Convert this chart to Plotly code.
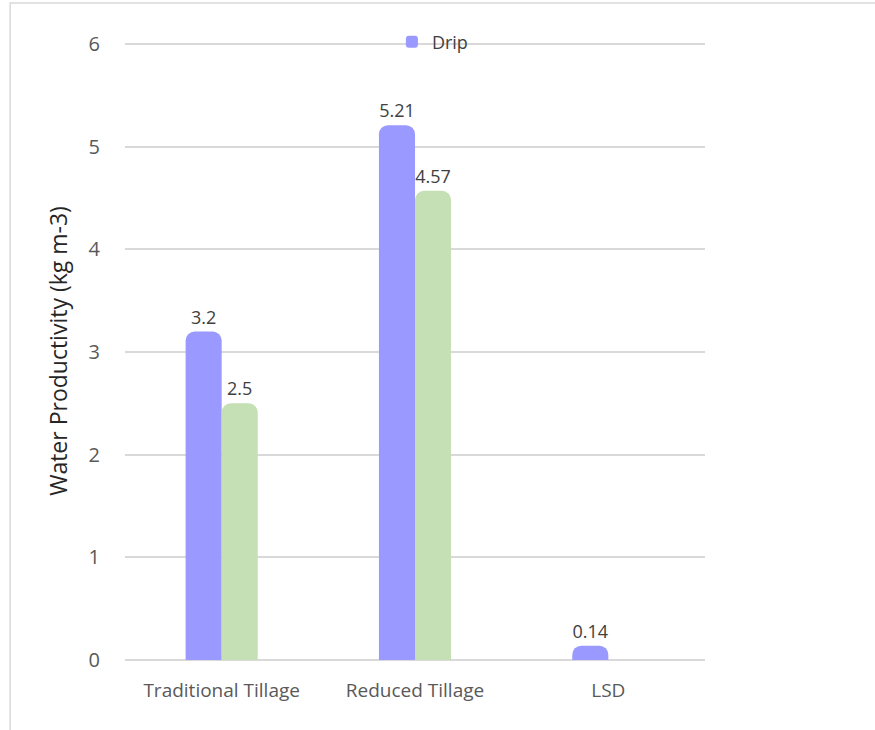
import plotly.graph_objects as go

categories = ["Traditional Tillage", "Reduced Tillage", "LSD"]
drip = [3.2, 5.21, 0.14]
second = [2.5, 4.57, None]
second_labels = ["2.5", "4.57", ""]
drip_labels = ["3.2", "5.21", "0.14"]
yticks = [0, 1, 2, 3, 4, 5, 6]

BLUE = "#9999FF"
GREEN = "#C5E0B4"
TXT = "#404040"
FONT = "Open Sans"

fig = go.Figure()
fig.add_trace(go.Bar(
    x=categories, y=drip, name="Drip", marker=dict(color=BLUE, cornerradius=9, line=dict(width=0)),
    text=drip_labels, textposition="outside", cliponaxis=False,
    textfont=dict(family=FONT, size=18, color=TXT), showlegend=True,
))
fig.add_trace(go.Bar(
    x=categories, y=second, name="", marker=dict(color=GREEN, cornerradius=9, line=dict(width=0)),
    text=second_labels, textposition="outside", cliponaxis=False,
    textfont=dict(family=FONT, size=18, color=TXT), showlegend=False,
))

fig.update_layout(
    width=875, height=730,
    margin=dict(l=125, r=170, t=42, b=70),
    paper_bgcolor="white", plot_bgcolor="white",
    barmode="group", bargap=0.627, bargroupgap=0,
    font=dict(family=FONT, color="#595959", size=18),
    legend=dict(orientation="h", x=0.53, y=1.0, xanchor="center", yanchor="middle",
                bgcolor="rgba(0,0,0,0)", font=dict(family=FONT, size=18, color=TXT),
                itemwidth=30),
    xaxis=dict(showgrid=False, showline=False, zeroline=False, ticks="",
               tickfont=dict(family=FONT, size=19, color="#595959"), ticklabelstandoff=17),
    yaxis=dict(range=[0, 6.02], tickvals=yticks, showgrid=True, gridcolor="#D9D9D9", gridwidth=2,
               zeroline=True, zerolinecolor="#D9D9D9", zerolinewidth=2, showline=False,
               tickfont=dict(family=FONT, size=20, color="#595959"), ticklabelstandoff=24,
               title=dict(text="Water Productivity (kg m-3)", standoff=14,
                          font=dict(family=FONT, size=23, color="#262626"))),
    shapes=[dict(type="rect", xref="paper", yref="paper", x0=-0.198, x1=1.31, y0=-0.2, y1=1.063,
                 line=dict(color="#D9D9D9", width=1.5), fillcolor="rgba(0,0,0,0)", layer="below")],
)

fig.write_html("out.html")
